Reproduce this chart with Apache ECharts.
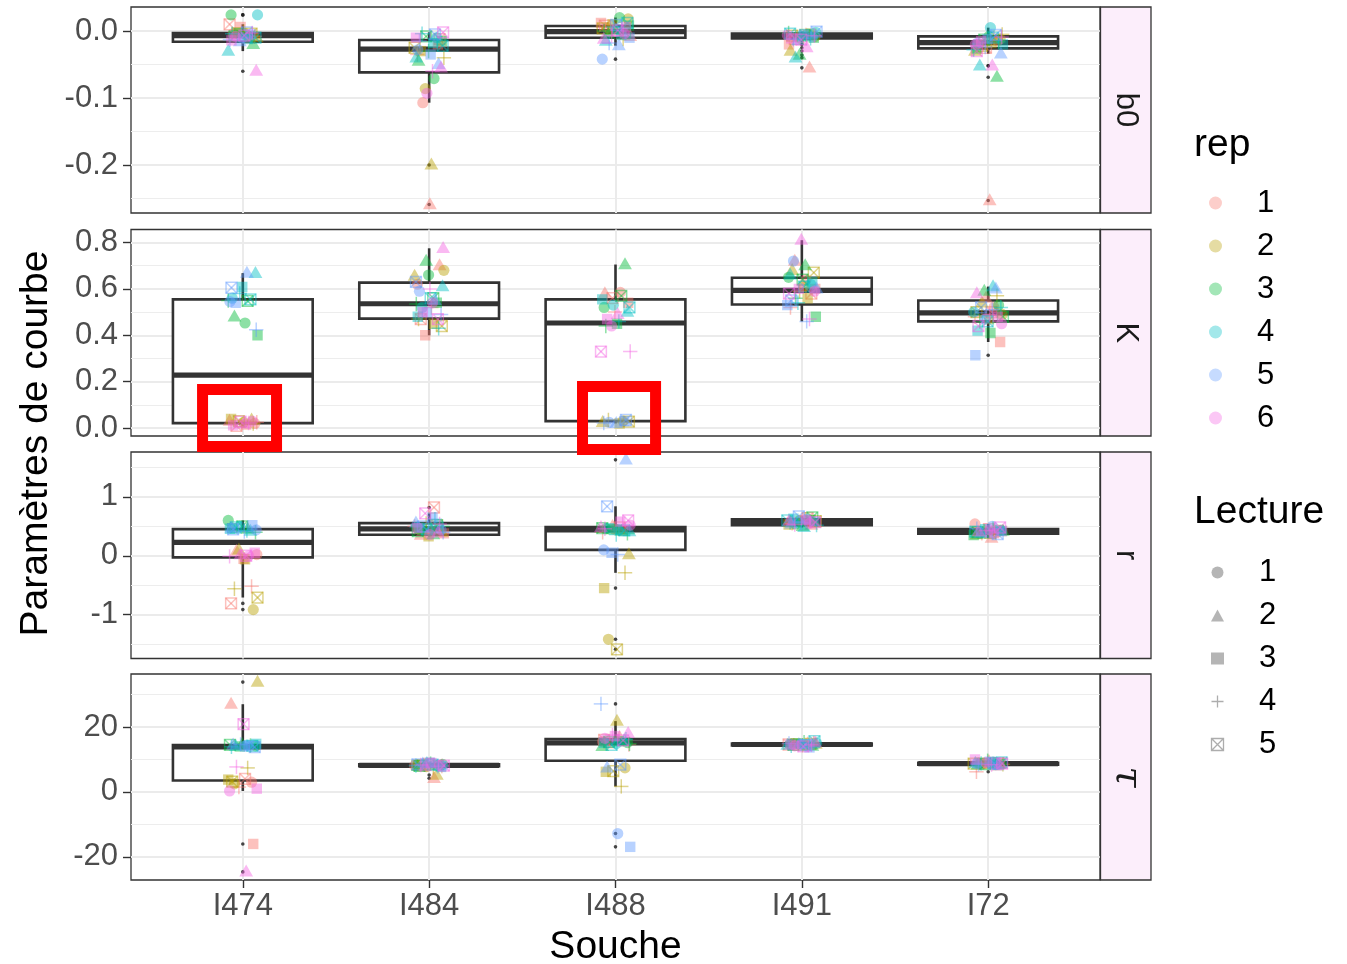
<!DOCTYPE html>
<html>
<head>
<meta charset="utf-8">
<title>Paramètres de courbe par souche</title>
<script src="https://cdn.jsdelivr.net/npm/echarts@6/dist/echarts.min.js"></script>
<style>
  html, body { margin: 0; padding: 0; background: #ffffff; }
  #chart { width: 1347px; height: 964px; }
</style>
</head>
<body>
<div id="chart"></div>
<script>
// ---- categories and facets ----
const souches = ['I474', 'I484', 'I488', 'I491', 'I72'];
const reps = [1, 2, 3, 4, 5, 6];
const lectures = [1, 2, 3, 4, 5];
const facetLabels = ['b0', 'K', 'r', 'τ'];

// ---- fitted values: one array per souche, 6 reps x 5 lectures (rep-major) ----
const b0Values = [
  [ -0.004, -0.012,  0.006, -0.008,  0.010,
    -0.006, -0.010, -0.002, -0.001, -0.004,
     0.024, -0.020, -0.003, -0.006, -0.008,
     0.024, -0.030, -0.012, -0.004, -0.010,
    -0.010, -0.016, -0.005, -0.013, -0.002,
    -0.008, -0.060, -0.014, -0.003, -0.007 ],
  [ -0.107, -0.259, -0.020, -0.035, -0.012,
    -0.086, -0.200, -0.030, -0.040, -0.025,
    -0.071, -0.045, -0.015, -0.030, -0.008,
    -0.010, -0.040, -0.018, -0.004, -0.022,
    -0.028, -0.050, -0.035, -0.015, -0.005,
    -0.093, -0.055, -0.010, -0.060, -0.002 ],
  [  0.005, -0.008,  0.012, -0.003,  0.008,
     0.018,  0.002,  0.010, -0.012,  0.004,
     0.020, -0.005,  0.008,  0.000, -0.002,
     0.003, -0.015, -0.006,  0.006,  0.012,
    -0.042, -0.022, -0.010, -0.018,  0.009,
    -0.004, -0.012,  0.006, -0.007,  0.001 ],
  [ -0.010, -0.055, -0.020, -0.006, -0.012,
    -0.008, -0.030, -0.004, -0.009, -0.007,
    -0.005, -0.036, -0.010, -0.003, -0.006,
    -0.002, -0.040, -0.008, -0.011, -0.004,
    -0.009, -0.014, -0.005, -0.012, -0.001,
    -0.006, -0.025, -0.011, -0.007, -0.013 ],
  [ -0.015, -0.253, -0.020, -0.010, -0.025,
    -0.012, -0.030, -0.018, -0.005, -0.022,
    -0.008, -0.069, -0.026, -0.016, -0.013,
     0.005, -0.052, -0.020, -0.028, -0.010,
    -0.018, -0.034, -0.012, -0.024, -0.006,
    -0.020, -0.052, -0.015, -0.009, -0.030 ]
];

const KValues = [
  [ 0.020, 0.030, 0.015, 0.025, 0.010,
    0.025, 0.035, 0.040, 0.020, 0.030,
    0.453, 0.479, 0.400, 0.550, 0.548,
    0.560, 0.667, 0.608, 0.580, 0.555,
    0.545, 0.668, 0.540, 0.424, 0.605,
    0.030, 0.018, 0.012, 0.022, 0.028 ],
  [ 0.620, 0.700, 0.400, 0.520, 0.470,
    0.680, 0.655, 0.450, 0.470, 0.440,
    0.660, 0.720, 0.540, 0.535, 0.560,
    0.520, 0.610, 0.480, 0.430, 0.560,
    0.590, 0.550, 0.500, 0.490, 0.630,
    0.540, 0.775, 0.500, 0.600, 0.470 ],
  [ 0.585, 0.580, 0.540, 0.500, 0.560,
    0.030, 0.025, 0.020, 0.035, 0.028,
    0.520, 0.705, 0.450, 0.440, 0.570,
    0.530, 0.500, 0.555, 0.460, 0.520,
    0.025, 0.020, 0.030, 0.022, 0.035,
    0.440, 0.490, 0.470, 0.330, 0.330 ],
  [ 0.640, 0.720, 0.600, 0.520, 0.580,
    0.610, 0.680, 0.560, 0.590, 0.670,
    0.650, 0.700, 0.480, 0.560, 0.640,
    0.620, 0.660, 0.630, 0.540, 0.610,
    0.720, 0.600, 0.530, 0.460, 0.550,
    0.590, 0.810, 0.600, 0.470, 0.580 ],
  [ 0.520, 0.560, 0.371, 0.480, 0.500,
    0.490, 0.540, 0.470, 0.570, 0.500,
    0.530, 0.590, 0.410, 0.460, 0.480,
    0.500, 0.610, 0.420, 0.520, 0.460,
    0.470, 0.600, 0.314, 0.510, 0.520,
    0.450, 0.580, 0.480, 0.490, 0.440 ]
];

const rValues = [
  [  0.020,  0.080, -0.050, -0.520, -0.810,
    -0.915,  0.100, -0.060, -0.560, -0.710,
     0.600,  0.450,  0.470,  0.400,  0.500,
     0.500,  0.420,  0.460,  0.430,  0.480,
     0.440,  0.470,  0.520,  0.410,  0.450,
     0.000,  0.020,  0.050, -0.010,  0.000 ],
  [ 0.420, 0.350, 0.380, 0.500, 0.820,
    0.460, 0.400, 0.330, 0.550, 0.520,
    0.480, 0.360, 0.440, 0.500, 0.420,
    0.530, 0.460, 0.480, 0.620, 0.450,
    0.440, 0.560, 0.650, 0.400, 0.500,
    0.360, 0.390, 0.470, 0.540, 0.720 ],
  [  0.450,  0.500,  0.430,  0.400,  0.480,
    -1.420,  0.020, -0.550, -0.290, -1.590,
     0.460,  0.420,  0.450,  0.380,  0.470,
     0.440,  0.410,  0.470,  0.360,  0.430,
     0.100,  1.630,  0.050,  0.020,  0.840,
     0.520,  0.480,  0.580,  0.460,  0.600 ],
  [ 0.580, 0.520, 0.600, 0.550, 0.640,
    0.600, 0.560, 0.530, 0.620, 0.590,
    0.540, 0.500, 0.610, 0.570, 0.650,
    0.570, 0.480, 0.630, 0.520, 0.600,
    0.620, 0.540, 0.580, 0.560, 0.670,
    0.550, 0.590, 0.610, 0.530, 0.570 ],
  [ 0.540, 0.300, 0.420, 0.380, 0.450,
    0.400, 0.360, 0.440, 0.410, 0.390,
    0.380, 0.420, 0.350, 0.460, 0.400,
    0.430, 0.370, 0.450, 0.400, 0.410,
    0.500, 0.390, 0.420, 0.460, 0.370,
    0.440, 0.410, 0.380, 0.430, 0.480 ]
];

const tauValues = [
  [  3.0,  27.0, -16.0,  1.5,  4.0,
     2.5,  33.8,   3.8,  7.4,  3.2,
    14.2,  14.6,  14.0, 14.3, 14.5,
    14.4,  14.1,  14.8, 13.9, 14.2,
    14.0,  14.5,  14.3, 14.6, 13.8,
     0.3, -24.6,   1.0,  7.7, 20.9 ],
  [ 8.1, 4.2, 8.4, 8.0, 8.6,
    7.8, 5.2, 8.3, 7.6, 8.2,
    8.5, 7.9, 8.2, 8.7, 8.0,
    8.3, 8.8, 7.7, 8.1, 8.4,
    8.0, 8.6, 9.0, 7.9, 8.5,
    8.2, 7.8, 8.9, 8.3, 8.1 ],
  [  15.5, 16.8,  15.0, 14.6, 16.0,
      7.4, 21.8,   6.2,  1.7,  6.4,
     15.2, 14.0,  15.6, 14.8, 15.4,
     14.9, 15.8,  15.1, 16.2, 14.5,
    -12.8,  7.4, -16.9, 27.1,  8.4,
     16.5, 18.0,  17.2, 17.5, 15.9 ],
  [ 14.5, 14.9, 14.2, 15.1, 14.6,
    14.3, 14.7, 15.0, 14.4, 14.8,
    14.6, 14.1, 14.9, 15.3, 14.5,
    15.0, 14.4, 14.7, 14.2, 15.6,
    14.8, 14.6, 13.7, 14.9, 14.4,
    14.2, 15.2, 14.6, 14.5, 14.0 ],
  [ 8.6, 9.4, 8.2, 6.2, 8.9,
    8.8, 8.4, 9.0, 8.5, 8.7,
    9.2, 8.3, 8.7, 9.6, 8.6,
    8.4, 8.9, 8.6, 8.8, 9.1,
    8.7, 8.1, 9.3, 8.5, 8.8,
    9.0, 8.6, 10.0, 8.4, 8.7 ]
];

// ---- boxplot statistics per souche: [lower whisker, Q1, median, Q3, upper whisker] ----
const b0Box = [
  [-0.030, -0.016, -0.007, -0.003, 0.010],
  [-0.107, -0.0617, -0.027, -0.0134, -0.002],
  [-0.022, -0.010, -0.001, 0.0075, 0.020],
  [-0.017, -0.011, -0.0075, -0.004, -0.001],
  [-0.034, -0.026, -0.0175, -0.008, 0.005]
];
const KBox = [
  [0.010, 0.0215, 0.228, 0.555, 0.668],
  [0.400, 0.472, 0.536, 0.627, 0.775],
  [0.020, 0.030, 0.453, 0.555, 0.705],
  [0.460, 0.533, 0.594, 0.648, 0.810],
  [0.371, 0.460, 0.497, 0.550, 0.610]
];
const rBox = [
  [-0.710, -0.028, 0.226, 0.452, 0.600],
  [0.330, 0.356, 0.458, 0.554, 0.720],
  [-0.290, 0.100, 0.440, 0.486, 0.840],
  [0.480, 0.520, 0.570, 0.620, 0.670],
  [0.300, 0.375, 0.415, 0.455, 0.540]
];
const tauBox = [
  [0.3, 3.5, 13.9, 14.4, 27.0],
  [7.6, 7.9, 8.2, 8.5, 9.0],
  [1.7, 9.6, 15.1, 16.3, 21.8],
  [13.7, 14.3, 14.6, 14.9, 15.6],
  [8.1, 8.4, 8.7, 9.0, 10.0]
];

// ---- axis ranges and tick values ----
const b0Range = [-0.2716, 0.0358];
const KRange = [-0.034, 0.856];
const rRange = [-1.746, 1.763];
const tauRange = [-27.1, 36.3];
const b0Ticks = [-0.2, -0.1, 0];
const KTicks = [0, 0.2, 0.4, 0.6, 0.8];
const rTicks = [-1, 0, 1];
const tauTicks = [-20, 0, 20];
const b0Minor = [-0.25, -0.15, -0.05];
const KMinor = [0.1, 0.3, 0.5, 0.7];
const rMinor = [-1.5, -0.5, 0.5, 1.5];
const tauMinor = [-10, 10, 30];
const soucheTicks = [0, 1, 2, 3, 4];

// horizontal jitter (category units) applied to the points
const jitter = [-0.052, 0.031, -0.012, 0.064, -0.071, 0.018, 0.075, -0.034, 0.004, 0.047,
                -0.063, 0.056, -0.021, 0.012, -0.045, 0.079, -0.078, 0.026, -0.057, 0.068,
                -0.003, -0.016, 0.041, -0.069, 0.022, -0.038, 0.072, -0.061, 0.051, 0.008];

// highlighted groups in the K facet: souche index, x offsets, value span
const highlightSouche = [0, 2];
const highlightDx = [[-0.216, 0.181], [-0.177, 0.215]];
const highlightY = [[-0.079, 0.166], [-0.092, 0.179]];

// ---- styling ----
const FONT = "'Liberation Sans', Arial, Helvetica, sans-serif";
const repColors = ['#F8766D', '#B79F00', '#00BA38', '#00BFC4', '#619CFF', '#F564E3'];
const ALPHA = 0.45;
const BOX_STROKE = '#333333';

function rgba(hex, a) {
  const n = parseInt(hex.slice(1), 16);
  return 'rgba(' + ((n >> 16) & 255) + ',' + ((n >> 8) & 255) + ',' + (n & 255) + ',' + a + ')';
}

const facets = [
  { values: b0Values, box: b0Box, range: b0Range, ticks: b0Ticks, minor: b0Minor, fmt: v => v.toFixed(1) },
  { values: KValues, box: KBox, range: KRange, ticks: KTicks, minor: KMinor, fmt: v => v.toFixed(1) },
  { values: rValues, box: rBox, range: rRange, ticks: rTicks, minor: rMinor, fmt: v => String(Math.round(v)) },
  { values: tauValues, box: tauBox, range: tauRange, ticks: tauTicks, minor: tauMinor, fmt: v => String(Math.round(v)) }
];

const PANEL_LEFT = 131, PANEL_WIDTH = 969;
const panelTops = [7, 229.5, 452, 674];
const panelHeights = [206, 206.5, 206.5, 206];

const grid = [], xAxis = [], yAxis = [], series = [], graphic = [];

// point glyph by lecture: 1 circle, 2 triangle, 3 square, 4 plus, 5 square with cross
function glyph(lec, cx, cy, color) {
  const fillStyle = { fill: color, opacity: ALPHA };
  const lineStyle = { stroke: color, opacity: ALPHA, lineWidth: 1.5, fill: null };
  if (lec === 1) return [{ type: 'circle', shape: { cx, cy, r: 5.6 }, style: fillStyle }];
  if (lec === 2) return [{ type: 'polygon', shape: { points: [[cx, cy - 7.4], [cx - 6.9, cy + 4.6], [cx + 6.9, cy + 4.6]] }, style: fillStyle }];
  if (lec === 3) return [{ type: 'rect', shape: { x: cx - 5.2, y: cy - 5.2, width: 10.4, height: 10.4 }, style: fillStyle }];
  if (lec === 4) return [
    { type: 'line', shape: { x1: cx - 7.2, y1: cy, x2: cx + 7.2, y2: cy }, style: lineStyle },
    { type: 'line', shape: { x1: cx, y1: cy - 7.2, x2: cx, y2: cy + 7.2 }, style: lineStyle }
  ];
  return [
    { type: 'rect', shape: { x: cx - 5.4, y: cy - 5.4, width: 10.8, height: 10.8 }, style: lineStyle },
    { type: 'line', shape: { x1: cx - 5.4, y1: cy - 5.4, x2: cx + 5.4, y2: cy + 5.4 }, style: lineStyle },
    { type: 'line', shape: { x1: cx + 5.4, y1: cy - 5.4, x2: cx - 5.4, y2: cy + 5.4 }, style: lineStyle }
  ];
}

facets.forEach((f, i) => {
  const isBottom = i === facets.length - 1;
  grid.push({
    left: PANEL_LEFT, top: panelTops[i], width: PANEL_WIDTH, height: panelHeights[i],
    show: true, backgroundColor: '#ffffff', borderColor: '#333333', borderWidth: 1.3,
    containLabel: false, outerBoundsMode: 'none'
  });

  xAxis.push({
    type: 'value', gridIndex: i, min: -0.6, max: 4.6, position: 'bottom',
    axisLine: { show: false, onZero: false },
    axisTick: { show: isBottom, length: 8, lineStyle: { color: '#333333', width: 1.4 }, customValues: soucheTicks },
    axisLabel: {
      show: isBottom, customValues: soucheTicks, margin: 11,
      formatter: v => souches[Math.round(v)] || '',
      fontSize: 31, color: '#4D4D4D', fontFamily: FONT
    },
    splitLine: { show: true, lineStyle: { color: '#EBEBEB', width: 2 } },
    name: isBottom ? 'Souche' : '', nameLocation: 'middle', nameGap: 48,
    nameTextStyle: { fontSize: 39, color: '#000000', fontFamily: FONT }
  });

  // major ticks, labels and grid lines
  yAxis.push({
    type: 'value', gridIndex: i, min: f.range[0], max: f.range[1], position: 'left',
    axisLine: { show: false, onZero: false },
    axisTick: { show: true, length: 8, lineStyle: { color: '#333333', width: 1.4 }, customValues: f.ticks },
    axisLabel: { show: true, customValues: f.ticks, formatter: f.fmt, margin: 13, fontSize: 31, color: '#4D4D4D', fontFamily: FONT },
    splitLine: { show: true, lineStyle: { color: '#EBEBEB', width: 2 } }
  });
  // minor grid lines
  yAxis.push({
    type: 'value', gridIndex: i, min: f.range[0], max: f.range[1], position: 'left',
    axisLine: { show: false, onZero: false },
    axisTick: { show: false, customValues: f.minor },
    axisLabel: { show: false, customValues: f.minor },
    splitLine: { show: true, lineStyle: { color: '#EDEDED', width: 1 } }
  });

  // boxes, whiskers and medians
  series.push({
    type: 'custom', xAxisIndex: i, yAxisIndex: 2 * i, z: 3, silent: true,
    dimensions: ['x', 'lo', 'q1', 'md', 'q3', 'hi'],
    encode: { x: 0, y: [1, 2, 3, 4, 5] },
    data: f.box.map((b, k) => [k].concat(b)),
    renderItem: (params, api) => {
      const k = api.value(0);
      const left = api.coord([k - 0.375, api.value(4)]);
      const right = api.coord([k + 0.375, api.value(2)]);
      const mid = api.coord([k, api.value(3)]);
      const yHi = api.coord([k, api.value(5)])[1];
      const yLo = api.coord([k, api.value(1)])[1];
      return {
        type: 'group', children: [
          { type: 'line', shape: { x1: mid[0], y1: yHi, x2: mid[0], y2: left[1] }, style: { stroke: BOX_STROKE, lineWidth: 2.6 } },
          { type: 'line', shape: { x1: mid[0], y1: right[1], x2: mid[0], y2: yLo }, style: { stroke: BOX_STROKE, lineWidth: 2.6 } },
          { type: 'rect', shape: { x: left[0], y: left[1], width: right[0] - left[0], height: right[1] - left[1] }, style: { fill: '#ffffff', stroke: BOX_STROKE, lineWidth: 2.6 } },
          { type: 'line', shape: { x1: left[0], y1: mid[1], x2: right[0], y2: mid[1] }, style: { stroke: BOX_STROKE, lineWidth: 5.2 } }
        ]
      };
    }
  });

  // outliers: values beyond the whiskers, drawn at the category centre
  const outliers = [];
  f.values.forEach((arr, k) => arr.forEach(v => {
    if (v < f.box[k][0] || v > f.box[k][4]) outliers.push([k, v]);
  }));
  series.push({
    type: 'scatter', xAxisIndex: i, yAxisIndex: 2 * i, z: 4, silent: true,
    symbol: 'circle', symbolSize: 3.6, itemStyle: { color: '#1A1A1A' },
    data: outliers
  });

  // jittered points coloured by rep, shaped by lecture
  const pts = [];
  f.values.forEach((arr, k) => arr.forEach((v, j) => {
    const rep = Math.floor(j / lectures.length) + 1;
    const lec = (j % lectures.length) + 1;
    pts.push([k + jitter[(j + 7 * k + 3 * i) % jitter.length], v, rep, lec]);
  }));
  series.push({
    type: 'custom', xAxisIndex: i, yAxisIndex: 2 * i, z: 5, silent: true, clip: true,
    dimensions: ['x', 'y', 'rep', 'lecture'],
    encode: { x: 0, y: 1 },
    data: pts,
    renderItem: (params, api) => {
      const p = api.coord([api.value(0), api.value(1)]);
      return { type: 'group', children: glyph(api.value(3), p[0], p[1], repColors[api.value(2) - 1]) };
    }
  });

  // facet strip on the right
  const isTau = facetLabels[i] === 'τ';
  graphic.push({
    type: 'rect', z: 10,
    shape: { x: PANEL_LEFT + PANEL_WIDTH + 0.5, y: panelTops[i], width: 50.5, height: panelHeights[i] },
    style: { fill: '#FCEEFB', stroke: '#333333', lineWidth: 1.3 }
  });
  graphic.push({
    type: 'text', z: 11,
    x: PANEL_LEFT + PANEL_WIDTH + (isTau ? 27 : 26), y: panelTops[i] + panelHeights[i] / 2,
    rotation: -Math.PI / 2,
    style: {
      text: facetLabels[i], fill: '#1A1A1A', fontSize: isTau ? 38 : 31,
      fontFamily: isTau ? "'DejaVu Serif', serif" : FONT,
      fontStyle: isTau ? 'italic' : 'normal',
      align: 'center', verticalAlign: 'middle'
    }
  });
});

// highlighted groups in the K facet
series.push({
  type: 'custom', xAxisIndex: 1, yAxisIndex: 2, z: 20, silent: true, clip: false,
  dimensions: ['x0', 'x1', 'y0', 'y1'],
  encode: { x: [0, 1], y: [2, 3] },
  data: highlightSouche.map((k, n) => [k + highlightDx[n][0], k + highlightDx[n][1], highlightY[n][0], highlightY[n][1]]),
  renderItem: (params, api) => {
    const a = api.coord([api.value(0), api.value(3)]);
    const b = api.coord([api.value(1), api.value(2)]);
    return {
      type: 'rect', shape: { x: a[0], y: a[1], width: b[0] - a[0], height: b[1] - a[1] },
      style: { fill: null, stroke: '#FF0000', lineWidth: 11 }
    };
  }
});

// legend entries (no data of their own)
reps.forEach(r => series.push({ type: 'scatter', name: 'rep ' + r, data: [], itemStyle: { color: rgba(repColors[r - 1], ALPHA) } }));
lectures.forEach(l => series.push({ type: 'scatter', name: 'Lecture ' + l, data: [], itemStyle: { color: 'rgba(51,51,51,0.45)' } }));

const lectureIcons = ['circle', 'triangle', 'rect',
  'path://M6,0L6,12M0,6L12,6',
  'path://M0,0L12,0L12,12L0,12ZM0,0L12,12M12,0L0,12'];

const legendText = { fontSize: 31, lineHeight: 31, color: '#000000', fontFamily: FONT, padding: [0, 0, 0, 30] };

// axis title and legend titles
graphic.push({
  type: 'text', x: 36, y: 443.5, rotation: Math.PI / 2,
  style: { text: 'Paramètres de courbe', fill: '#000000', fontSize: 39, fontFamily: FONT, align: 'center', verticalAlign: 'middle' }
});
graphic.push({ type: 'text', x: 1194, y: 145, style: { text: 'rep', fill: '#000000', fontSize: 39, fontFamily: FONT, align: 'left', verticalAlign: 'middle' } });
graphic.push({ type: 'text', x: 1194, y: 512, style: { text: 'Lecture', fill: '#000000', fontSize: 39, fontFamily: FONT, align: 'left', verticalAlign: 'middle' } });

const chart = echarts.init(document.getElementById('chart'), null, { renderer: 'canvas', width: 1347, height: 964 });
chart.setOption({
  animation: false,
  backgroundColor: '#ffffff',
  textStyle: { fontFamily: FONT },
  grid, xAxis, yAxis, series, graphic,
  legend: [
    {
      orient: 'vertical', left: 1204, top: 182.5, itemWidth: 13, itemHeight: 13, itemGap: 12,
      selectedMode: false, textStyle: legendText,
      formatter: n => n.replace('rep ', ''),
      data: reps.map(r => ({ name: 'rep ' + r, icon: 'circle' }))
    },
    {
      orient: 'vertical', left: 1204, top: 552, itemWidth: 13, itemHeight: 12, itemGap: 12,
      selectedMode: false, textStyle: legendText,
      formatter: n => n.replace('Lecture ', ''),
      data: lectures.map(l => (l >= 4
        ? { name: 'Lecture ' + l, icon: lectureIcons[l - 1], itemStyle: { color: 'none', borderColor: 'rgba(51,51,51,0.5)', borderWidth: 1.3 } }
        : { name: 'Lecture ' + l, icon: lectureIcons[l - 1] }))
    }
  ]
});
</script>
</body>
</html>
